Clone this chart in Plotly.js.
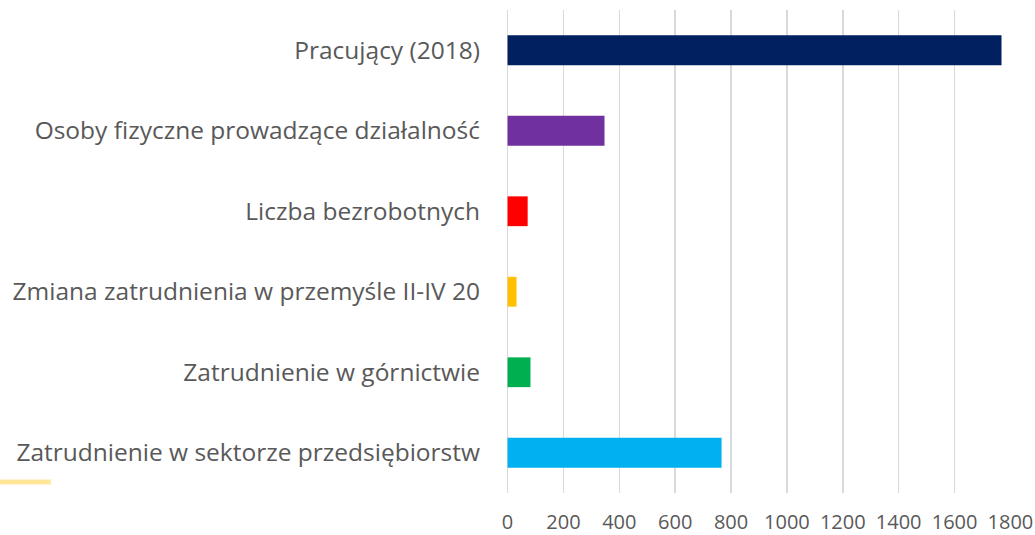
<!DOCTYPE html>
<html>
<head>
<meta charset="utf-8">
<script src="https://cdn.plot.ly/plotly-3.0.1.min.js"></script>
<style>html,body{margin:0;padding:0;background:#fff;}#chart{width:1035px;height:535px;}</style>
</head>
<body>
<div id="chart"></div>
<script>
const categories = [
  "Pracujący (2018)",
  "Osoby fizyczne prowadzące działalność",
  "Liczba bezrobotnych",
  "Zmiana zatrudnienia w przemyśle II-IV 20",
  "Zatrudnienie w górnictwie",
  "Zatrudnienie w sektorze przedsiębiorstw"
];
const values = [1768, 347, 72, 32, 82, 766];
const barColors = ["#002060", "#7030A0", "#FF0000", "#FFC000", "#00B050", "#00B0F0"];
const tickValues = [0, 200, 400, 600, 800, 1000, 1200, 1400, 1600, 1800];

const trace = {
  type: "bar",
  orientation: "h",
  y: categories,
  x: values,
  marker: {color: barColors},
  width: 0.37,
  hoverinfo: "x+y"
};

const layout = {
  width: 1035,
  height: 535,
  margin: {l: 507, r: 24, t: 10, b: 42},
  paper_bgcolor: "#ffffff",
  plot_bgcolor: "#ffffff",
  showlegend: false,
  font: {family: "Open Sans, sans-serif", color: "#595959", size: 20},
  xaxis: {
    range: [-2, 1802],
    tickvals: tickValues,
    ticktext: tickValues.map(String),
    showgrid: true,
    gridcolor: "#d9d9d9",
    gridwidth: 1.5,
    zeroline: true,
    zerolinecolor: "#d9d9d9",
    zerolinewidth: 1.5,
    showline: false,
    ticks: "",
    ticklabelstandoff: 15,
    tickfont: {size: 20, color: "#595959"},
    fixedrange: true
  },
  yaxis: {
    type: "category",
    autorange: "reversed",
    showgrid: false,
    zeroline: false,
    showline: false,
    ticks: "",
    ticklabelstandoff: 26,
    tickfont: {size: 24.5, color: "#595959"},
    fixedrange: true
  },
  shapes: [{
    type: "line",
    xref: "paper", yref: "paper",
    x0: -1.01, x1: -0.905,
    y0: 0.023, y1: 0.023,
    line: {color: "#FFE699", width: 5}
  }]
};

Plotly.newPlot("chart", [trace], layout, {displayModeBar: false, staticPlot: true});
</script>
</body>
</html>
